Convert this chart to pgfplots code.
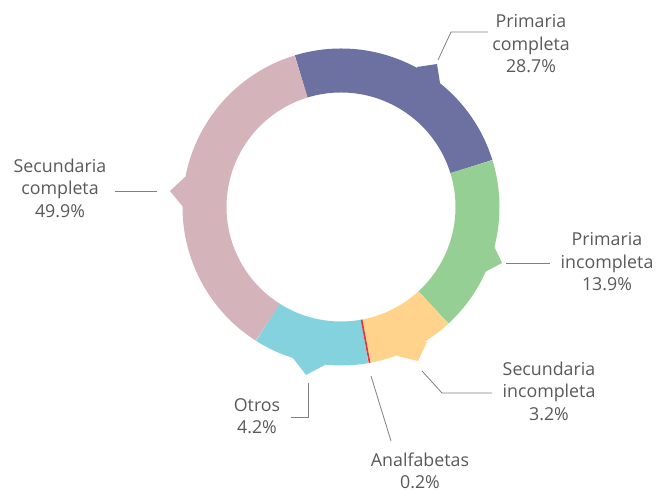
\documentclass[border=0pt]{standalone}
\usepackage{pgfplots}
\pgfplotsset{compat=1.18}
\usepackage{fontspec}
\setmainfont{Open Sans}
\definecolor{cPur}{HTML}{6C71A1}
\definecolor{cGre}{HTML}{96CF94}
\definecolor{cOra}{HTML}{FFD38B}
\definecolor{cRed}{HTML}{E8343A}
\definecolor{cTea}{HTML}{83D2DE}
\definecolor{cPin}{HTML}{D5B3BB}
\definecolor{cTxt}{HTML}{595959}
\definecolor{cLin}{HTML}{808080}
% shares of the ring (percent of the full circle), clockwise from the top
\def\vPur{24.94}\def\vGre{17.94}\def\vOra{8.86}\def\vRed{0.20}\def\vTea{11.80}\def\vPin{36.26}
\pgfmathsetmacro\aA{107}
\pgfmathsetmacro\aB{\aA-3.6*\vPur}
\pgfmathsetmacro\aC{\aB-3.6*\vGre}
\pgfmathsetmacro\aD{\aC-3.6*\vOra}
\pgfmathsetmacro\aE{\aD-3.6*\vRed}
\pgfmathsetmacro\aF{\aE-3.6*\vTea}
\pgfmathsetmacro\aG{\aF-3.6*\vPin}
\def\cx{341}\def\cy{283}\def\rm{136.5}
\begin{document}
\begin{tikzpicture}
\begin{axis}[width=660bp,height=490bp,scale only axis,
  xmin=0,xmax=660,ymin=0,ymax=490,hide axis,clip=false]
\path (rel axis cs:0,0) rectangle (rel axis cs:1,1);
% ring slices
\addplot[draw=cPur,line width=44bp,domain=\aB:\aA,samples=90] ({\cx+\rm*cos(x)},{\cy+\rm*sin(x)});
\addplot[draw=cGre,line width=44bp,domain=\aC:\aB,samples=70] ({\cx+\rm*cos(x)},{\cy+\rm*sin(x)});
\addplot[draw=cOra,line width=44bp,domain=\aD:\aC,samples=40] ({\cx+\rm*cos(x)},{\cy+\rm*sin(x)});
\addplot[draw=cTea,line width=44bp,domain=\aF:\aE,samples=50] ({\cx+\rm*cos(x)},{\cy+\rm*sin(x)});
\addplot[draw=cPin,line width=44bp,domain=\aG:\aF,samples=120] ({\cx+\rm*cos(x)},{\cy+\rm*sin(x)});
\addplot[draw=cRed,line width=44bp,domain=\aE:\aD,samples=2] ({\cx+\rm*cos(x)},{\cy+\rm*sin(x)});
% pointer tabs
\addplot[fill=cPur,draw=none] coordinates {(417,423) (437,426) (440,407) (423,402)} --cycle;
\addplot[fill=cGre,draw=none] coordinates {(493,246) (502,227) (483,217) (478,235)} --cycle;
\addplot[fill=cOra,draw=none] coordinates {(427,148) (418,129) (397,134) (408,150)} --cycle;
\addplot[fill=cTea,draw=none] coordinates {(293,132) (306,115) (325,125) (310,138)} --cycle;
\addplot[fill=cPin,draw=none] coordinates {(185,313) (170,299) (183,283) (195,298)} --cycle;
% connector lines
\addplot[cLin,line width=0.8bp] coordinates {(438,430) (451,458) (488,458)};
\addplot[cLin,line width=0.8bp] coordinates {(506,227) (550,227)};
\addplot[cLin,line width=0.8bp] coordinates {(422,119) (442,97) (492,97)};
\addplot[cLin,line width=0.8bp] coordinates {(371,114) (391,49)};
\addplot[cLin,line width=0.8bp] coordinates {(308,107) (308,73) (291,73)};
\addplot[cLin,line width=0.8bp] coordinates {(157,299) (115,299)};
% labels
\tikzset{lab/.style={text=cTxt,align=center,inner sep=0pt,font=\fontsize{17.8bp}{22.5bp}\selectfont}}
\node[lab] at (axis cs:531,446) {Primaria\\completa\\28.7\%};
\node[lab] at (axis cs:607,228) {Primaria\\incompleta\\13.9\%};
\node[lab] at (axis cs:549,99) {Secundaria\\incompleta\\3.2\%};
\node[lab,anchor=south] at (axis cs:420,1) {Analfabetas\\0.2\%};
\node[lab] at (axis cs:257,74) {Otros\\4.2\%};
\node[lab] at (axis cs:60,302) {Secundaria\\completa\\49.9\%};
\end{axis}
\end{tikzpicture}
\end{document}
